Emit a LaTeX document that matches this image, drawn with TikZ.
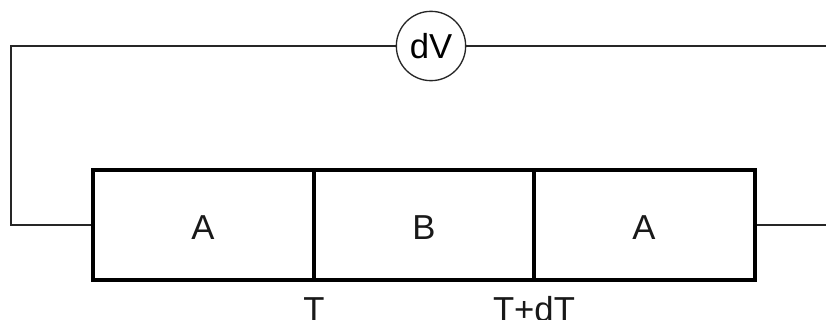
\documentclass[tikz,border=0pt]{standalone}
\usepackage{fontspec}
\setmainfont{Liberation Sans}
\tikzset{px/.style={x=0.75pt,y=-0.75pt},
wire/.style={line width=1pt,draw=black!85},
cell/.style={draw=black,line width=2.7pt,minimum height=82.5pt,inner sep=0pt,anchor=center},
lab/.style={font=\fontsize{26}{28}\selectfont,inner sep=0pt,text=black!90}}
\begin{document}
\begin{tikzpicture}[px]
\useasboundingbox (0,0) rectangle (826,320);
\fill[white] (0,0) rectangle (826,320);
\node[draw=black!85,line width=1pt,circle,minimum size=52pt,inner sep=0pt,font=\fontsize{26}{28}\selectfont] (dv) at (431,46) {dV};
\coordinate (lt) at (11,46);
\coordinate (lb) at (11,225);
\coordinate (rt) at (826,46);
\coordinate (rb) at (826,225);
\node[cell,minimum width=165.75pt] (c1) at (203.5,225) {};
\node[cell,minimum width=165pt] (c2) at (424,225) {};
\node[cell,minimum width=165.75pt] (c3) at (644.5,225) {};
\draw[wire] (dv.west) -- (lt) -- (lb) -- (c1.west);
\draw[wire] (dv.east) -- (rt);
\draw[wire] (c3.east) -- (rb);
\node[lab] (na) at (203,228) {A};
\node[lab] (nb) at (424,228) {B};
\node[lab] (nc) at (644,228) {A};
\node[lab,anchor=base] (t) at (314,322) {T};
\node[lab,anchor=base] (td) at (534,322) {T+dT};
\end{tikzpicture}
\end{document}
